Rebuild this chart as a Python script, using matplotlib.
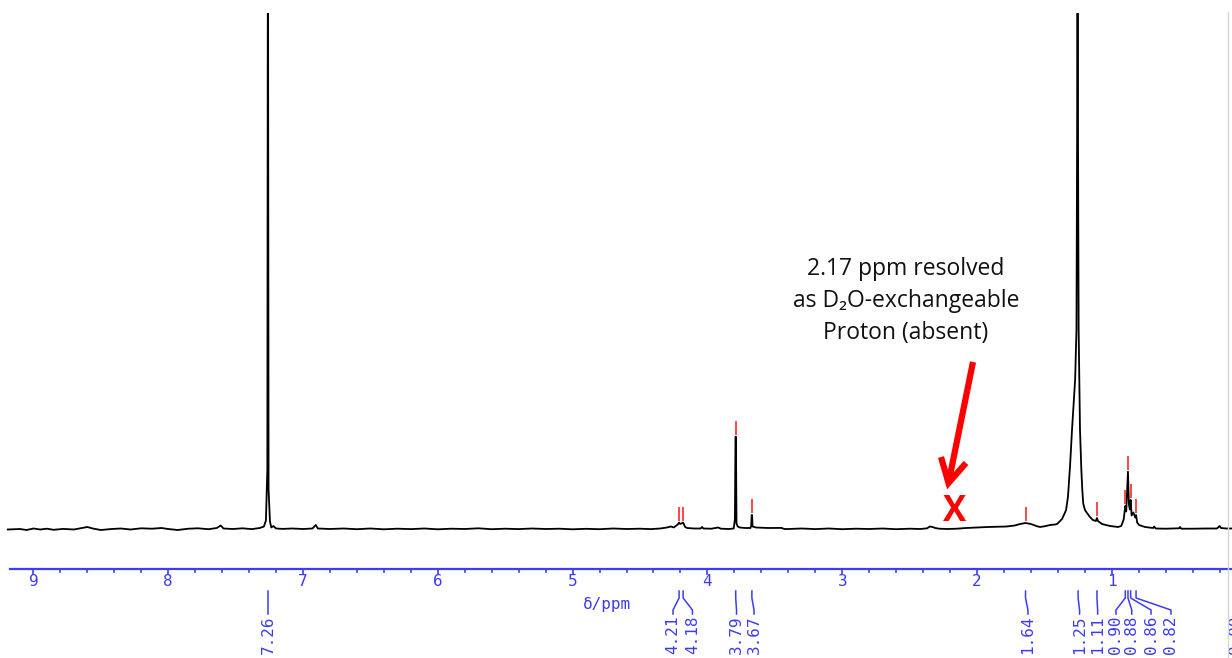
import numpy as np
import matplotlib
matplotlib.use("Agg")
import matplotlib.pyplot as plt
from matplotlib.lines import Line2D

# ---------------- data ----------------
spec_ppm = [
    9.19, 9.10, 9.05, 9.00, 8.95, 8.90, 8.85, 8.78, 8.70, 8.64, 8.60, 8.56, 8.50,
    8.42, 8.35, 8.28, 8.20, 8.12, 8.05, 8.00, 7.93, 7.85, 7.78, 7.70, 7.64, 7.61,
    7.59, 7.52, 7.45, 7.38, 7.32, 7.29, 7.275, 7.2645, 7.2615, 7.2605, 7.2595,
    7.2585, 7.2555, 7.245, 7.235, 7.22, 7.20, 7.15, 7.08, 7.00, 6.93, 6.905, 6.89,
    6.80, 6.70, 6.60, 6.50, 6.40, 6.30, 6.20, 6.10, 6.00, 5.90, 5.80, 5.70, 5.60,
    5.50, 5.40, 5.30, 5.20, 5.10, 5.00, 4.90, 4.80, 4.70, 4.60, 4.50, 4.42, 4.35,
    4.30, 4.27, 4.25, 4.235, 4.22, 4.21, 4.203, 4.193, 4.18, 4.175, 4.165, 4.15,
    4.10, 4.05, 4.04, 4.03, 3.97, 3.92, 3.90, 3.84, 3.805, 3.796, 3.7915, 3.7885,
    3.784, 3.775, 3.76, 3.72, 3.68, 3.675, 3.6715, 3.6685, 3.665, 3.64, 3.55,
    3.45, 3.43, 3.40, 3.30, 3.20, 3.10, 3.00, 2.90, 2.80, 2.70, 2.60, 2.50, 2.42,
    2.37, 2.35, 2.33, 2.31, 2.28, 2.22, 2.15, 2.08, 2.00, 1.92, 1.85, 1.78, 1.72,
    1.68, 1.64, 1.60, 1.56, 1.533, 1.50, 1.458, 1.42, 1.406, 1.369, 1.339, 1.325,
    1.310, 1.295, 1.272, 1.262, 1.259, 1.257, 1.2555, 1.2525, 1.251, 1.249,
    1.246, 1.236, 1.226, 1.219, 1.212, 1.199, 1.184, 1.162, 1.140, 1.118, 1.110,
    1.103, 1.073, 1.013, 0.954, 0.930, 0.912, 0.900, 0.893, 0.880, 0.873, 0.866,
    0.860, 0.853, 0.840, 0.826, 0.820, 0.812, 0.798, 0.754, 0.694, 0.685, 0.675,
    0.60, 0.50, 0.494, 0.485, 0.40, 0.30, 0.22, 0.200, 0.19, 0.15, 0.10,
]
spec_int = [
    0.0, 0.5, -0.5, 1.0, 0.0, 0.8, -0.3, 0.6, 0.0, 1.5, 2.5, 1.0, -0.5,
    0.5, 1.0, 0.0, 1.2, 0.8, 1.5, 0.5, -0.5, 0.8, 1.2, 0.3, 1.5, 4.0,
    1.0, 0.5, 1.2, 0.4, 1.5, 3.0, 9.0, 60.0, 451.0, 700.0, 700.0,
    451.0, 40.0, 8.0, 2.0, 3.5, 1.0, 0.6, 1.0, 0.5, 1.0, 4.5, 1.0,
    0.5, 1.0, 0.3, 1.0, 0.2, 0.8, 0.4, 1.0, 0.2, 0.8, 0.5, 1.2, 0.3,
    0.8, 0.4, 1.0, 0.5, 0.8, 0.2, 0.7, 0.3, 1.0, 0.5, 0.8, 0.4, 1.0,
    2.0, 3.0, 2.0, 3.5, 5.0, 7.0, 5.5, 6.0, 7.0, 5.5, 2.5, 1.5,
    1.0, 1.0, 2.5, 1.0, 0.8, 2.0, 0.8, 0.5, 1.0, 10.0, 92.8, 92.8,
    6.0, 3.0, 2.0, 1.5, 1.5, 4.0, 14.5, 14.5, 3.0, 2.0, 1.5,
    1.6, 0.5, 0.5, 1.0, 0.4, 1.0, 0.3, 0.8, 0.5, 1.0, 0.3, 0.8, 0.5,
    1.2, 3.0, 2.5, 1.5, 0.8, 0.5, 0.8, 1.5, 2.0, 2.5, 2.8, 3.0, 4.0,
    5.5, 6.5, 5.5, 3.5, 2.5, 3.2, 4.5, 5.0, 5.5, 10.5, 19.5, 33.0,
    63.0, 100.0, 150.0, 200.0, 330.0, 405.0, 700.0, 700.0, 405.0, 330.0,
    200.0, 100.0, 60.0, 40.0, 26.0, 19.5, 16.5, 12.5, 9.5, 8.5, 11.5,
    8.5, 5.5, 3.5, 2.5, 3.5, 10.0, 23.5, 18.0, 57.8, 25.0, 20.0,
    29.5, 14.0, 17.0, 12.0, 14.5, 7.0, 4.5, 2.5, 1.5, 3.0, 1.0,
    0.8, 1.2, 2.5, 0.8, 0.8, 1.0, 1.0, 3.5, 1.5, 1.0, 1.0,
]
peak_ppm = [7.26, 4.21, 4.18, 3.79, 3.67, 1.64, 1.25, 1.11, 0.90, 0.88, 0.86, 0.82, 0.00]
peak_labels = ["7.26", "4.21", "4.18", "3.79", "3.67", "1.64", "1.25", "1.11",
               "0.90", "0.88", "0.86", "0.82", "0.00"]
major_ticks = [9, 8, 7, 6, 5, 4, 3, 2, 1]
axis_title = "δ/ppm"
note_lines = ["2.17 ppm resolved", "as D₂O-exchangeable", "Proton (absent)"]
absent_ppm = 2.17

# ---------------- layout ----------------
label_ppm = [7.26, 4.255, 4.111, 3.784, 3.654, 1.622, 1.239, 1.105,
             0.969, 0.852, 0.709, 0.561, 0.079]
W, H = 1232, 658
PX_PER_PPM = 134.8
ZERO_X = 1246.6
x_left = ZERO_X / PX_PER_PPM
x_right = (ZERO_X - W) / PX_PER_PPM
BLUE = "#3c3cf0"
RED = "#ff2a2a"

fig = plt.figure(figsize=(W / 100, H / 100), dpi=100)

# spectrum axes: top at pixel row 13, bottom at 560, baseline at 529.5
ax = fig.add_axes([0, (H - 560) / H, 1, (560 - 13) / H])
ax.set_xlim(x_left, x_right)
ax.set_ylim(-30.5, 516.5)
ax.axis("off")
ax.plot(spec_ppm, spec_int, color="black", lw=1.3)

# red peak-pick markers
sp = np.array(spec_ppm)[::-1]
si = np.array(spec_int)[::-1]
for p in peak_ppm:
    if not (x_right < p < x_left):
        continue
    grid = np.linspace(p - 0.006, p + 0.006, 200)
    top = np.interp(grid, sp, si).max()
    ax.plot([p, p], [top + 2, top + 16], color=RED, lw=1.2, solid_capstyle="butt")

# absent-proton cross
ax.text(absent_ppm, 17.5, "X", color="red", fontsize=25, fontweight="bold",
        ha="center", va="center", family=["Open Sans", "DejaVu Sans"])

# scale axes: y in pixel rows (560 .. 658)
sx = fig.add_axes([0, 0, 1, (H - 560) / H])
sx.set_xlim(x_left, x_right)
sx.set_ylim(H, 560)
sx.axis("off")
x10 = (ZERO_X - 10) / PX_PER_PPM
sx.plot([x10, x_right], [568.5, 568.5], color=BLUE, lw=1.6, clip_on=False)
for t in major_ticks:
    sx.plot([t, t], [568.5, 574], color=BLUE, lw=1.2)
    sx.text(t, 574.5, str(t), ha="center", va="top", color=BLUE,
            fontsize=11.5, family="DejaVu Sans Mono")
for k in range(1, 46):
    m = round(k * 0.2, 1)
    if abs(m - round(m)) < 1e-6 or m > x10:
        continue
    sx.plot([m, m], [568.5, 571.5], color=BLUE, lw=1.2)
sx.text((ZERO_X - 607) / PX_PER_PPM, 604, axis_title, ha="center", va="center",
        color=BLUE, fontsize=11.5, family="DejaVu Sans Mono")

for p, lp, lab in zip(peak_ppm, label_ppm, peak_labels):
    sx.plot([p, p, lp, lp], [591, 598, 610, 614], color=BLUE, lw=1.1, clip_on=False)
    sx.text(lp, 615, lab, rotation=90, ha="center", va="top", color=BLUE,
            fontsize=11.5, family="DejaVu Sans Mono", clip_on=False)

# right-hand frame line
fig.add_artist(Line2D([1227.5 / W] * 2, [0, 1 - 12 / H], transform=fig.transFigure,
                      color="#d6d6d6", lw=1))

# annotation text
for i, line in enumerate(note_lines):
    fig.text(906 / W, 1 - (269 + 32 * i) / H, line, ha="center", va="center",
             fontsize=16.5, color="#111111", family=["Open Sans", "DejaVu Sans"])

# red arrow (figure pixels, y from top)
def fp(x, y):
    return x / W, 1 - y / H

tail = fp(973, 362)
tip = fp(948.5, 483)
w1 = fp(941, 457)
w2 = fp(966, 463)
fig.add_artist(Line2D([tail[0], tip[0]], [tail[1], tip[1]], transform=fig.transFigure,
                      color="red", lw=4.5, solid_capstyle="butt"))
fig.add_artist(Line2D([w1[0], tip[0], w2[0]], [w1[1], tip[1], w2[1]],
                      transform=fig.transFigure, color="red", lw=4.5,
                      solid_joinstyle="miter", solid_capstyle="butt"))

fig.savefig("out.png", dpi=100, facecolor="white")
